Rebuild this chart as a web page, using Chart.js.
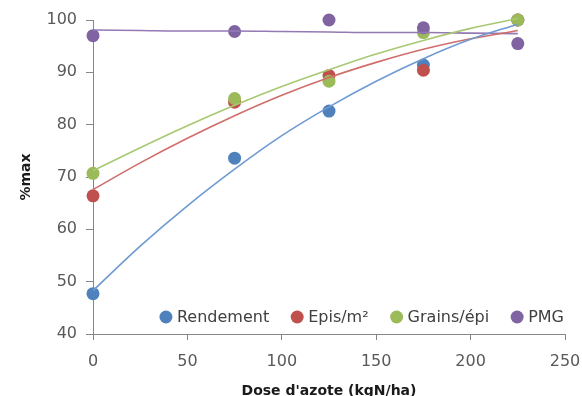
<!DOCTYPE html>
<html>
<head>
<meta charset="utf-8">
<script src="https://cdn.jsdelivr.net/npm/chart.js@4.4.1/dist/chart.umd.min.js"></script>
<style>
  html, body { margin: 0; padding: 0; background: #fff; }
</style>
</head>
<body>
<canvas id="chart" width="582" height="396"></canvas>
<script>
// --------------------- Data ---------------------
const doses = [0, 75, 125, 175, 225];
const rendement = [47.7, 73.6, 82.6, 91.4, 100];
const episM2 = [66.4, 84.3, 89.4, 90.4, 100];
const grainsEpi = [70.7, 85.0, 88.3, 97.6, 100];
const pmg = [97.0, 97.8, 100.0, 98.5, 95.5];

// trend lines, every 25 kgN/ha
const trendDoses = [0, 25, 50, 75, 100, 125, 150, 175, 200, 225];
const trendRendement = [48.3, 56.8, 64.5, 71.5, 77.9, 83.4, 88.3, 92.6, 96.3, 99.2];
const trendEpis = [67.6, 72.7, 77.4, 81.7, 85.6, 89.0, 91.9, 94.4, 96.4, 98.0];
const trendGrains = [71.2, 75.6, 79.8, 83.7, 87.3, 90.5, 93.5, 96.1, 98.4, 100.3];
const trendPmg = [98.1, 98.0, 97.9, 97.9, 97.8, 97.7, 97.6, 97.6, 97.5, 97.4];

const seriesNames = ["Rendement", "Epis/m\u00b2", "Grains/\u00e9pi", "PMG"];
const markerColors = ["#4f81bd", "#c0504d", "#9bbb59", "#8064a2"];
const lineColors = ["#6f9ad2", "#cf6e6b", "#a9c873", "#9479b5"];

const toPoints = (xs, ys) => ys.map((y, i) => ({ x: xs[i], y }));

const axisGray = "#868686";
const tickFont = { family: "DejaVu Sans", size: 16 };
const titleFont = { family: "DejaVu Sans", size: 14, weight: "bold" };

// --------------------- Legend inside the plot ---------------------
const insideLegend = {
  id: "insideLegend",
  afterDraw(chart) {
    const ctx = chart.ctx;
    const area = chart.chartArea;
    const items = chart.data.datasets.filter((ds) => ds.legend);
    ctx.save();
    ctx.font = "16px 'DejaVu Sans'";
    ctx.textBaseline = "middle";
    ctx.textAlign = "left";
    const gapDotText = 11;
    const gapTextDot = 28;
    const widths = items.map((ds) => ctx.measureText(ds.label).width);
    let total = 0;
    widths.forEach((w, i) => {
      total += gapDotText + w + (i < widths.length - 1 ? gapTextDot : 0);
    });
    let x = area.right - 1 - total;
    const y = area.bottom - 17;
    items.forEach((ds, i) => {
      ctx.fillStyle = ds.backgroundColor;
      ctx.beginPath();
      ctx.arc(x, y, 6.5, 0, Math.PI * 2);
      ctx.fill();
      ctx.fillStyle = "#404040";
      ctx.fillText(ds.label, x + gapDotText, y + 1);
      x += gapDotText + widths[i] + gapTextDot;
    });
    ctx.restore();
  }
};

// --------------------- Chart ---------------------
const pointSets = [rendement, episM2, grainsEpi, pmg];
const trendSets = [trendRendement, trendEpis, trendGrains, trendPmg];

const datasets = [];
trendSets.forEach((ys, i) => {
  datasets.push({
    label: seriesNames[i] + " (tendance)",
    data: toPoints(trendDoses, ys),
    showLine: true,
    borderColor: lineColors[i],
    borderWidth: 1.6,
    pointRadius: 0,
    tension: 0.4,
    cubicInterpolationMode: "monotone",
    fill: false,
    order: 0,
    clip: false
  });
});
pointSets.forEach((ys, i) => {
  datasets.push({
    label: seriesNames[i],
    legend: true,
    data: toPoints(doses, ys),
    showLine: false,
    backgroundColor: markerColors[i],
    borderColor: markerColors[i],
    borderWidth: 0,
    pointRadius: 6.5,
    order: 4 - i,
    clip: false
  });
});

new Chart(document.getElementById("chart"), {
  type: "scatter",
  data: { datasets },
  plugins: [insideLegend],
  options: {
    responsive: false,
    animation: false,
    devicePixelRatio: 1,
    layout: { padding: { top: 20, right: 17, left: 0, bottom: 0 } },
    plugins: {
      legend: { display: false },
      tooltip: { enabled: false }
    },
    scales: {
      x: {
        type: "linear",
        min: 0,
        max: 250,
        ticks: { stepSize: 50, color: "#595959", font: tickFont, padding: 12, maxRotation: 0 },
        grid: { display: true, drawOnChartArea: false, tickLength: 6, color: axisGray },
        border: { color: axisGray, width: 1 },
        title: {
          display: true,
          text: "Dose d'azote (kgN/ha)",
          color: "#1a1a1a",
          font: titleFont,
          padding: { top: 0, bottom: -4 }
        },
        afterFit: (scale) => {
          scale.height = 62;
          scale.paddingLeft = 0;
          scale.paddingRight = 0;
        }
      },
      y: {
        min: 40,
        max: 100,
        ticks: { stepSize: 10, color: "#595959", font: tickFont, padding: 9 },
        grid: { display: true, drawOnChartArea: false, tickLength: 7, color: axisGray },
        border: { color: axisGray, width: 1 },
        title: {
          display: true,
          text: "%max",
          color: "#1a1a1a",
          font: titleFont,
          padding: { top: 18, bottom: 0 }
        },
        afterFit: (scale) => {
          scale.width = 93;
          scale.paddingTop = 0;
          scale.paddingBottom = 0;
        }
      }
    }
  }
});
</script>
</body>
</html>
